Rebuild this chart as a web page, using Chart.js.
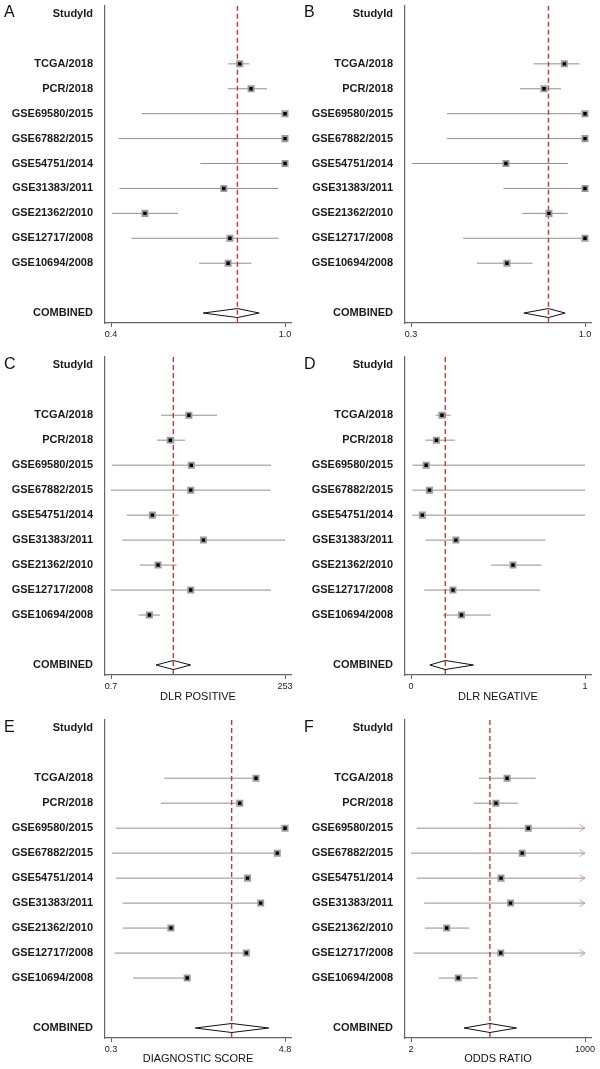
<!DOCTYPE html>
<html>
<head>
<meta charset="utf-8">
<title>Forest plots</title>
<script src="https://cdn.jsdelivr.net/npm/chart.js@4.4.0/dist/chart.umd.min.js"></script>
<style>
  html, body { margin: 0; padding: 0; background: #fff; }
  #figure { position: relative; width: 600px; height: 1069px; overflow: hidden; }
  .panel { position: absolute; width: 300px; }
  .panel canvas { display: block; }
  .letter { position: absolute; left: 4px; font: 16px "Liberation Sans", Arial, sans-serif; line-height: 16px; color: #111; }
</style>
</head>
<body>
<div id="figure"></div>
<script>
// Studies, top to bottom
const studies = ['TCGA/2018', 'PCR/2018', 'GSE69580/2015', 'GSE67882/2015', 'GSE54751/2014',
                 'GSE31383/2011', 'GSE21362/2010', 'GSE12717/2008', 'GSE10694/2008'];
const rowLabels = ['StudyId', ''].concat(studies, ['', 'COMBINED']);

// A - sensitivity
const sensEst = [0.844, 0.883, 1.00, 1.00, 1.00, 0.789, 0.517, 0.810, 0.804];
const sensLo  = [0.805, 0.803, 0.506, 0.426, 0.708, 0.429, 0.403, 0.470, 0.704];
const sensHi  = [0.877, 0.938, 1.00, 1.00, 1.00, 0.976, 0.631, 0.978, 0.884];
const sensPooled = [0.718, 0.836, 0.911];
const sensTicks = [0.4, 1.0];
const sensTickLabels = ['0.4', '1.0'];

// B - specificity
const specEst = [0.917, 0.835, 1.00, 1.00, 0.682, 1.00, 0.855, 1.00, 0.686];
const specLo  = [0.794, 0.739, 0.445, 0.445, 0.304, 0.672, 0.748, 0.510, 0.565];
const specHi  = [0.978, 0.904, 1.00, 1.00, 0.932, 1.00, 0.930, 1.00, 0.789];
const specPooled = [0.754, 0.853, 0.920];
const specTicks = [0.3, 1.0];
const specTickLabels = ['0.3', '1.0'];

// C - DLR positive
const dlrPosEst = [9.77, 5.21, 10.6, 10.4, 2.84, 16.0, 3.44, 10.4, 2.57];
const dlrPosLo  = [3.81, 3.33, 0.73, 0.70, 1.19, 1.03, 1.86, 0.70, 1.78];
const dlrPosHi  = [25.4, 8.54, 158, 155, 6.83, 253, 6.45, 158, 3.68];
const dlrPosPooled = [3.22, 5.77, 10.4];
const dlrPosTicks = [0.7, 253];
const dlrPosTickLabels = ['0.7', '253'];

// D - DLR negative
const dlrNegEst = [0.178, 0.146, 0.087, 0.106, 0.065, 0.258, 0.586, 0.241, 0.290];
const dlrNegLo  = [0.142, 0.083, 0.008, 0.008, 0.008, 0.083, 0.461, 0.076, 0.184];
const dlrNegHi  = [0.228, 0.252, 1.0, 1.0, 1.0, 0.772, 0.750, 0.742, 0.459];
const dlrNegPooled = [0.108, 0.197, 0.359];
const dlrNegTicks = [0, 1];
const dlrNegTickLabels = ['0', '1'];

// E - diagnostic score (lines stop at the estimate)
const scoreEst = [4.05, 3.63, 4.80, 4.60, 3.83, 4.17, 1.85, 3.80, 2.27];
const scoreLo  = [1.68, 1.59, 0.43, 0.33, 0.43, 0.60, 0.61, 0.39, 0.87];
const scoreHi  = [4.05, 3.63, 4.80, 4.60, 3.83, 4.17, 1.85, 3.80, 2.27];
const scorePooled = [2.48, 3.42, 4.38];
const scoreTicks = [0.3, 4.8];
const scoreTickLabels = ['0.3', '4.8'];

// F - odds ratio (arrow = upper limit past the axis)
const orEst = [61.9, 41.6, 132, 106, 49.8, 69.9, 7.17, 49.3, 10.8];
const orLo  = [22.5, 18.8, 2.45, 2.0, 2.45, 3.2, 3.28, 2.2, 5.37];
const orHi  = [172, 91, 1000, 1000, 1000, 1000, 15.9, 1000, 21.7];
const orArrow = [false, false, true, true, true, true, false, true, false];
const orPooled = [13.3, 33.5, 86.8];
const orTicks = [2, 1000];
const orTickLabels = ['2', '1000'];

// ---- styling / layout ----
const FIRST_ROW = 2;
const POOLED_ROW = 12;
const Y_MIN = -0.33;
const Y_MAX = 12.4;
const DIAMOND_HALF = 0.18;
const AXIS_LEFT = 105;       // width of the label column
const PLOT_RIGHT_PAD = 9;
const TICK_INSET = 6 / 174;  // end ticks sit a little inside the plot
const CI_COLOR = '#8f8f8f';
const ARROW_LINE_COLOR = '#a08a8a';
const ARROW_HEAD_COLOR = '#cf9a9a';
const REF_COLOR = '#c93a36';
const AXIS_COLOR = '#666';

Chart.defaults.font.family = '"Liberation Sans", Arial, sans-serif';

function chevron(color) {
    const c = document.createElement('canvas');
    c.width = 14;
    c.height = 10;
    const g = c.getContext('2d');
    g.strokeStyle = color;
    g.lineWidth = 1;
    g.beginPath();
    g.moveTo(1.5, 1.5);
    g.lineTo(7, 5);
    g.lineTo(1.5, 8.5);
    g.stroke();
    return c;
}
const arrowHead = chevron(ARROW_HEAD_COLOR);

const panels = [
    { letter: 'A', left: 0,   top: 0,   height: 350, padTop: 5, axisH: 27, type: 'linear',
      est: sensEst, lo: sensLo, hi: sensHi, pooled: sensPooled, ticks: sensTicks, tickLabels: sensTickLabels },
    { letter: 'B', left: 300, top: 0,   height: 350, padTop: 5, axisH: 27, type: 'linear',
      est: specEst, lo: specLo, hi: specHi, pooled: specPooled, ticks: specTicks, tickLabels: specTickLabels },
    { letter: 'C', left: 0,   top: 350, height: 360, padTop: 7, axisH: 35, type: 'logarithmic', title: 'DLR POSITIVE', titlePad: 6.4,
      est: dlrPosEst, lo: dlrPosLo, hi: dlrPosHi, pooled: dlrPosPooled, ticks: dlrPosTicks, tickLabels: dlrPosTickLabels },
    { letter: 'D', left: 300, top: 350, height: 360, padTop: 7, axisH: 35, type: 'linear', title: 'DLR NEGATIVE', titlePad: 6.4,
      est: dlrNegEst, lo: dlrNegLo, hi: dlrNegHi, pooled: dlrNegPooled, ticks: dlrNegTicks, tickLabels: dlrNegTickLabels },
    { letter: 'E', left: 0,   top: 710, height: 359, padTop: 10, axisH: 31, type: 'linear', title: 'DIAGNOSTIC SCORE', titlePad: 3.4,
      est: scoreEst, lo: scoreLo, hi: scoreHi, pooled: scorePooled, ticks: scoreTicks, tickLabels: scoreTickLabels },
    { letter: 'F', left: 300, top: 710, height: 359, padTop: 10, axisH: 31, type: 'logarithmic', title: 'ODDS RATIO', titlePad: 3.4,
      est: orEst, lo: orLo, hi: orHi, arrows: orArrow, pooled: orPooled, ticks: orTicks, tickLabels: orTickLabels }
];

/**
 * x range so that the two end ticks sit just inside the plot
 */
function xRange(p) {
    const [t0, t1] = p.ticks;
    if (p.type === 'logarithmic') {
        const a = Math.log10(t0), b = Math.log10(t1), s = (b - a) * TICK_INSET;
        return { min: Math.pow(10, a - s), max: Math.pow(10, b + s) };
    }
    const s = (t1 - t0) * TICK_INSET;
    return { min: t0 - s, max: t1 + s };
}

function buildPanel(p) {
    const wrap = document.createElement('div');
    wrap.className = 'panel';
    wrap.style.left = p.left + 'px';
    wrap.style.top = p.top + 'px';
    wrap.style.height = p.height + 'px';

    const canvas = document.createElement('canvas');
    canvas.width = 300;
    canvas.height = p.height;
    canvas.style.width = '300px';
    canvas.style.height = p.height + 'px';
    wrap.appendChild(canvas);

    const letter = document.createElement('div');
    letter.className = 'letter';
    letter.style.top = (p.padTop - 1) + 'px';
    letter.textContent = p.letter;
    wrap.appendChild(letter);
    document.getElementById('figure').appendChild(wrap);

    const [pLo, pEst, pHi] = p.pooled;
    const datasets = [];

    // study estimates
    datasets.push({
        label: 'estimate',
        data: p.est.map((v, i) => ({ x: v, y: i + FIRST_ROW })),
        showLine: false,
        pointStyle: 'rect',
        pointRadius: 3.7,
        backgroundColor: '#000',
        borderColor: '#9c9c9c',
        borderWidth: 1.8,
        order: 0
    });

    // pooled diamond
    datasets.push({
        label: 'pooled',
        data: [
            { x: pLo, y: POOLED_ROW },
            { x: pEst, y: POOLED_ROW - DIAMOND_HALF },
            { x: pHi, y: POOLED_ROW },
            { x: pEst, y: POOLED_ROW + DIAMOND_HALF },
            { x: pLo, y: POOLED_ROW }
        ],
        showLine: true,
        fill: false,
        borderColor: '#111',
        borderWidth: 1,
        pointRadius: 0,
        order: 1
    });

    // pooled reference line
    datasets.push({
        label: 'reference',
        data: [{ x: pEst, y: Y_MIN }, { x: pEst, y: Y_MAX }],
        showLine: true,
        borderColor: REF_COLOR,
        borderWidth: 1.4,
        borderDash: [5, 3],
        pointRadius: 0,
        order: 2
    });

    // confidence intervals
    p.lo.forEach((lo, i) => {
        const arrow = p.arrows && p.arrows[i];
        datasets.push({
            label: studies[i],
            data: [{ x: lo, y: i + FIRST_ROW }, { x: p.hi[i], y: i + FIRST_ROW }],
            showLine: true,
            borderColor: arrow ? ARROW_LINE_COLOR : CI_COLOR,
            borderWidth: 1,
            pointStyle: arrow ? arrowHead : 'circle',
            pointRadius: (ctx) => (arrow && ctx.dataIndex === 1 ? 1 : 0),
            order: 3
        });
    });

    const range = xRange(p);

    new Chart(canvas, {
        type: 'scatter',
        data: { datasets },
        options: {
            responsive: false,
            animation: false,
            events: [],
            layout: { padding: { top: p.padTop, right: PLOT_RIGHT_PAD, left: 0, bottom: 0 } },
            plugins: { legend: { display: false }, tooltip: { enabled: false } },
            scales: {
                x: {
                    type: p.type,
                    min: range.min,
                    max: range.max,
                    afterBuildTicks: (axis) => { axis.ticks = p.ticks.map(v => ({ value: v })); },
                    afterFit: (axis) => {
                        axis.height = p.axisH;
                        axis.paddingLeft = 0;
                        axis.paddingRight = 0;
                    },
                    border: { display: true, color: AXIS_COLOR, width: 1.2 },
                    grid: { display: true, drawOnChartArea: false, drawTicks: true, tickLength: 4, color: AXIS_COLOR },
                    ticks: {
                        autoSkip: false,
                        maxRotation: 0,
                        padding: 2,
                        color: '#222',
                        font: { size: 9 },
                        callback: (v, i) => p.tickLabels[i]
                    },
                    title: {
                        display: !!p.title,
                        text: p.title || '',
                        color: '#111',
                        font: { size: 11 },
                        padding: { top: 0, bottom: p.titlePad || 0 }
                    }
                },
                y: {
                    type: 'linear',
                    reverse: true,
                    min: Y_MIN,
                    max: Y_MAX,
                    afterBuildTicks: (axis) => { axis.ticks = rowLabels.map((_, i) => ({ value: i })); },
                    afterFit: (axis) => {
                        axis.width = AXIS_LEFT;
                        axis.paddingTop = 0;
                        axis.paddingBottom = 0;
                    },
                    border: { display: true, color: AXIS_COLOR, width: 1.2 },
                    grid: { display: false },
                    ticks: {
                        autoSkip: false,
                        padding: 4,
                        color: '#1a1a1a',
                        font: { size: 11, weight: 'bold' },
                        callback: (v, i) => rowLabels[i]
                    }
                }
            }
        }
    });
}

panels.forEach(buildPanel);
</script>
</body>
</html>
